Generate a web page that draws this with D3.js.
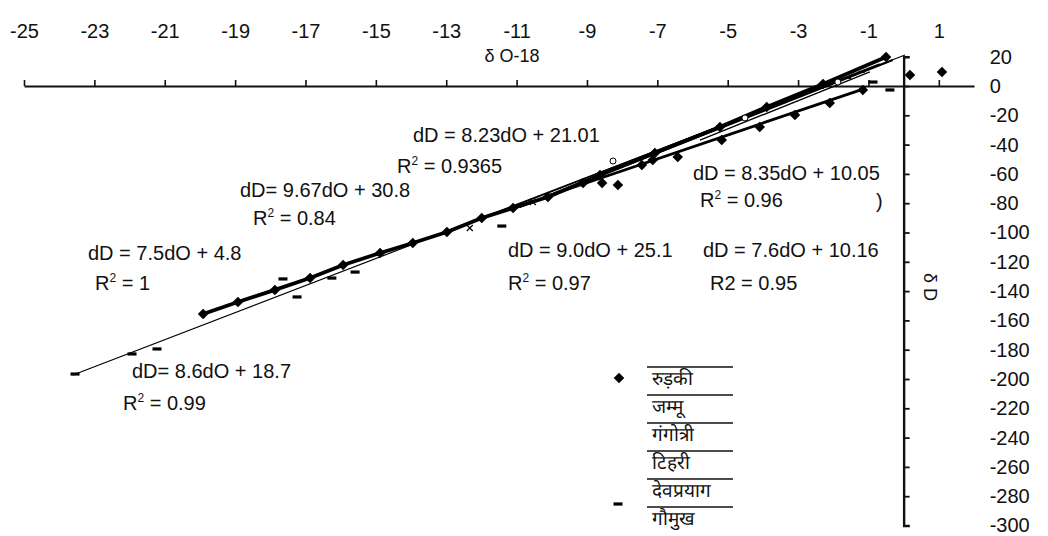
<!DOCTYPE html>
<html><head><meta charset="utf-8">
<script src="https://cdn.jsdelivr.net/npm/d3@7"></script>
<style>
html,body{margin:0;padding:0;background:#fff;}
svg{display:block;}
text{font-family:"Liberation Sans",Arial,sans-serif;fill:#111;}
</style>
</head><body>
<svg id="c" width="1048" height="536"></svg>
<script>
// ---------- data ----------
const xTickValues = [-25,-23,-21,-19,-17,-15,-13,-11,-9,-7,-5,-3,-1,1];
const yTickValues = [20,0,-20,-40,-60,-80,-100,-120,-140,-160,-180,-200,-220,-240,-260,-280,-300];
const xTitle = "δ O-18";
const yTitle = "δ D";

const seriesNames = ["रुड़की","जम्मू","गंगोत्री","टिहरी","देवप्रयाग","गौमुख"];

// रुड़की (connected thick line with diamonds)
const roorkeeX = [-19.91,-18.92,-17.87,-16.87,-15.93,-14.88,-13.95,-12.98,-11.99,-11.10,-10.11,-8.63,-7.07,-5.22,-3.89,-2.29,-0.50];
const roorkeeY = [-155.6,-147.4,-139.2,-131.1,-122.2,-114.0,-107.2,-99.7,-90.1,-83.3,-75.8,-60.8,-45.7,-28.0,-14.3,1.4,19.8];
const roorkeeExtraX = [0.18,1.09];
const roorkeeExtraY = [7.5,9.6];

// जम्मू
const jammuX = [-8.26,-4.51,-1.87];
const jammuY = [-51.2,-21.8,2.7];
// गंगोत्री
const gangotriX = [-12.33,-10.54];
const gangotriY = [-96.9,-79.2];
// टिहरी
const tehriX = [-1.58,-1.19];
const tehriY = [5.5,9.6];
// देवप्रयाग
const devprayagX = [-9.11,-8.57,-8.12,-7.44,-7.13,-6.42,-5.17,-4.09,-3.09,-2.10,-1.16];
const devprayagY = [-66.2,-66.2,-67.6,-53.9,-50.5,-48.5,-36.9,-28.0,-19.8,-11.6,-2.7];
// गौमुख
const gaumukhX = [-23.55,-21.93,-21.22,-17.64,-17.24,-16.25,-15.59,-11.42,-0.87,-0.39];
const gaumukhY = [-196.6,-182.9,-179.5,-131.7,-144.0,-131.1,-127.0,-95.6,2.7,-2.7];

// trend line end points (series order; रुड़की uses its connected line)
const trendStartX = [null,-10.91,-13.18,-5.79,-10.11,-23.61];
const trendStartY = [null,-82.6,-101.7,-36.9,-75.1,-197.3];
const trendEndX   = [null,-0.31,-0.68,-0.96,-1.07,0.04];
const trendEndY   = [null,17.7,15.0,9.6,-1.4,21.2];

const equations = [
  {t:"dD = 8.23dO + 21.01"}, {t:"0.9365", r:true},
  {t:"dD= 9.67dO + 30.8"}, {t:"0.84", r:true},
  {t:"dD = 7.5dO + 4.8"}, {t:"1", r:true},
  {t:"dD= 8.6dO + 18.7"}, {t:"0.99", r:true},
  {t:"dD = 9.0dO + 25.1"}, {t:"0.97", r:true},
  {t:"dD = 7.6dO + 10.16"}, {t:"R2 = 0.95"},
  {t:"dD = 8.35dO + 10.05"}, {t:"0.96", r:true},
  {t:")"}
];
// ---------- layout ----------
const eqPos = [[413,142],[397,173],[240,197],[253,225],[88,260],[95,290],[132,378],[123,410],
               [508,257],[508,290],[703,257],[710,290],[693,180],[700,207],[876,208]];
const seriesStyle = [
  {marker:"diamond", width:3.8},
  {marker:"circle", width:2.2},
  {marker:"x", width:1.4},
  {marker:"tick", width:1.4},
  {marker:"diamond", width:2.8},
  {marker:"dash", width:1.2}
];

const svg = d3.select("#c");
const x = d3.scaleLinear().domain([-25,2]).range([24,974]);
const y = d3.scaleLinear().domain([-300,20]).range([525.5,56.7]);

const zip = (a,b)=>a.map((v,i)=>({x:v,y:b[i]}));
const seriesPts = [
  zip(roorkeeX,roorkeeY).concat(zip(roorkeeExtraX,roorkeeExtraY)),
  zip(jammuX,jammuY), zip(gangotriX,gangotriY), zip(tehriX,tehriY),
  zip(devprayagX,devprayagY), zip(gaumukhX,gaumukhY)
];

// ---------- axes ----------
const gx = svg.append("g").attr("transform",`translate(0,${y(0)})`)
  .call(d3.axisTop(x).tickValues(xTickValues).tickSizeInner(6).tickSizeOuter(0).tickPadding(42).tickFormat(d=>String(d)));
gx.select(".domain").attr("stroke","#111").attr("stroke-width",2);
gx.selectAll(".tick line").attr("stroke","#111").attr("stroke-width",1.6);
gx.selectAll("text").attr("font-size",20).attr("font-family","Liberation Sans, Arial, sans-serif").attr("fill","#111");

const gy = svg.append("g").attr("transform",`translate(${x(0)},0)`)
  .call(d3.axisRight(y).tickValues(yTickValues).tickSizeInner(6).tickSizeOuter(6).tickPadding(80).tickFormat(d=>String(d)));
gy.select(".domain").attr("stroke","#111").attr("stroke-width",2.4);
gy.selectAll(".tick line").attr("stroke","#111").attr("stroke-width",1.8);
gy.selectAll("text").attr("font-size",20).attr("font-family","Liberation Sans, Arial, sans-serif").attr("fill","#111");

svg.append("text").attr("x",x(-11)-32).attr("y",62).attr("font-size",18).text(xTitle);
svg.append("text").attr("transform",`translate(${x(0)+20},${y(-140)-4}) rotate(90)`)
  .attr("text-anchor","middle").attr("font-size",18).text(yTitle);

// ---------- lines ----------
const line = d3.line().x(d=>x(d.x)).y(d=>y(d.y));
svg.append("path").datum(zip(roorkeeX,roorkeeY)).attr("d",line)
  .attr("fill","none").attr("stroke","#000").attr("stroke-width",seriesStyle[0].width).attr("stroke-linejoin","round");
for(let i=1;i<seriesNames.length;i++){
  svg.append("path").datum([{x:trendStartX[i],y:trendStartY[i]},{x:trendEndX[i],y:trendEndY[i]}])
    .attr("d",line).attr("fill","none").attr("stroke","#000").attr("stroke-width",seriesStyle[i].width);
}

// ---------- markers ----------
function drawMarker(g,type,cx,cy){
  if(type==="diamond"){
    g.append("path").attr("d",d3.symbol(d3.symbolSquare).size(56)())
      .attr("transform",`translate(${cx},${cy}) rotate(45)`).attr("fill","#000");
  } else if(type==="dash"){
    g.append("rect").attr("x",cx-4.5).attr("y",cy-1.6).attr("width",9).attr("height",3.2).attr("fill","#000");
  } else if(type==="circle"){
    g.append("circle").attr("cx",cx).attr("cy",cy).attr("r",3).attr("fill","#fff").attr("stroke","#000").attr("stroke-width",1);
  } else if(type==="x"){
    g.append("path").attr("d",`M${cx-3},${cy-3}L${cx+3},${cy+3}M${cx-3},${cy+3}L${cx+3},${cy-3}`).attr("stroke","#000").attr("stroke-width",1.2);
  } else if(type==="tick"){
    g.append("rect").attr("x",cx-3).attr("y",cy-1).attr("width",6).attr("height",2).attr("fill","#000");
  }
}
const gm = svg.append("g");
seriesPts.forEach((pts,i)=>pts.forEach(p=>drawMarker(gm,seriesStyle[i].marker,x(p.x),y(p.y))));

// ---------- equations ----------
equations.forEach((e,i)=>{
  const t = svg.append("text").attr("x",eqPos[i][0]).attr("y",eqPos[i][1]).attr("font-size",20);
  if(e.r){
    t.append("tspan").text("R");
    t.append("tspan").attr("font-size",12).attr("dy",-8).text("2");
    t.append("tspan").attr("dy",8).text(" = "+e.t);
  } else t.text(e.t);
});

// ---------- legend ----------
const lg = svg.append("g");
seriesNames.forEach((n,i)=>{
  const cy = 378 + 28*i;
  lg.append("line").attr("x1",647).attr("x2",733).attr("y1",cy-11).attr("y2",cy-11).attr("stroke","#111").attr("stroke-width",1.4);
  lg.append("text").attr("x",652).attr("y",cy+7).attr("font-size",19)
    .attr("font-family","'Noto Sans','Noto Sans Devanagari',sans-serif").text(n);
});
drawMarker(lg,"diamond",619,378);
drawMarker(lg,"dash",618,378+28*5-14);
</script>
</body></html>
